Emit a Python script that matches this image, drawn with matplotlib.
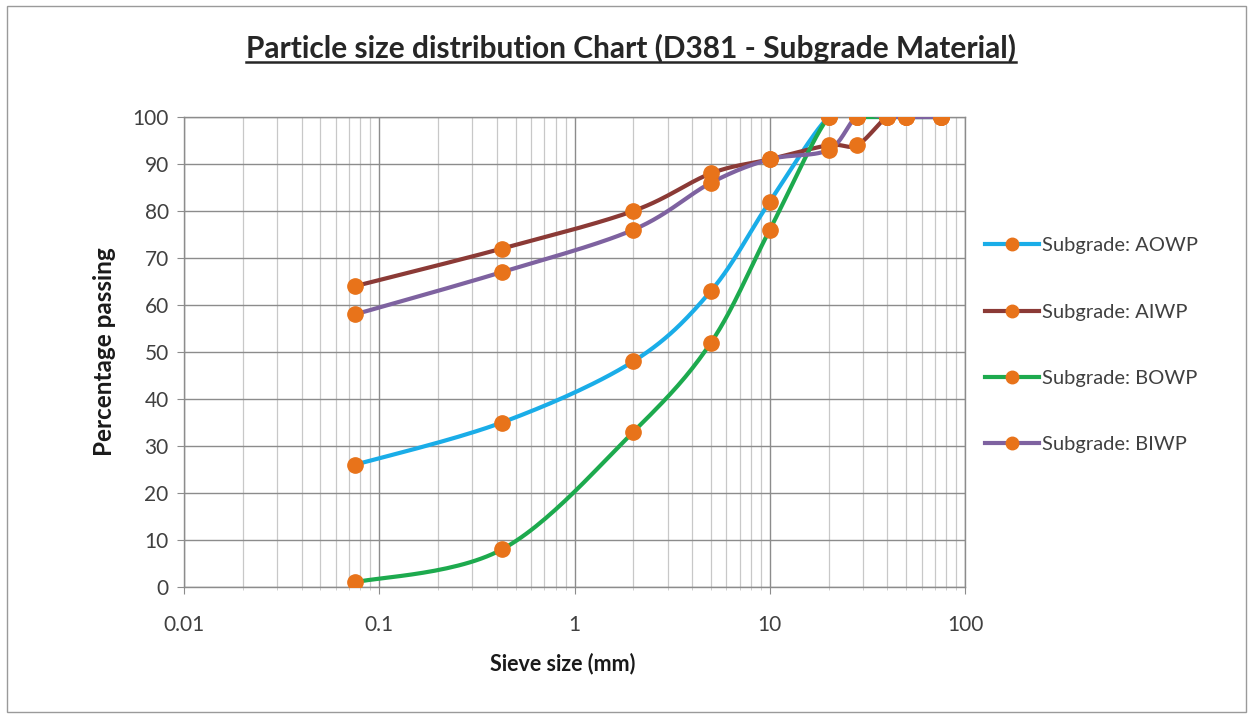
import numpy as np
import matplotlib
matplotlib.use("Agg")
import matplotlib.pyplot as plt
from matplotlib.ticker import LogLocator, FixedLocator, NullFormatter, FuncFormatter
from matplotlib.lines import Line2D
from matplotlib.patches import Rectangle

plt.rcParams['font.family'] = ['Lato', 'DejaVu Sans']

# ---------------- data ----------------
sieve_mm = [0.075, 0.425, 2, 5, 10, 20, 28, 40, 50, 75]
series_names = ["Subgrade: AOWP", "Subgrade: AIWP", "Subgrade: BOWP", "Subgrade: BIWP"]
aowp = [26, 35, 48, 63, 82, 100, 100, 100, 100, 100]
aiwp = [64, 72, 80, 88, 91, 94, 94, 100, 100, 100]
bowp = [1, 8, 33, 52, 76, 100, 100, 100, 100, 100]
biwp = [58, 67, 76, 86, 91, 93, 100, 100, 100, 100]
series_values = [aowp, aiwp, bowp, biwp]
line_colors = ["#1AADE8", "#8B3A36", "#1DAA4E", "#7E62A0"]
marker_color = "#E8731A"

x_ticks = [0.01, 0.1, 1, 10, 100]
x_tick_labels = ["0.01", "0.1", "1", "10", "100"]
y_ticks = list(range(0, 101, 10))

title = "Particle size distribution Chart (D381 - Subgrade Material)"
xlabel = "Sieve size (mm)"
ylabel = "Percentage passing"

# ---------------- figure ----------------
W, H = 1253, 716
fig = plt.figure(figsize=(W / 100, H / 100), dpi=100)
fig.patch.set_facecolor("white")
fig.add_artist(Rectangle((7 / W, 4 / H), (W - 14) / W, (H - 10) / H,
                         transform=fig.transFigure, fill=False,
                         edgecolor="#9A9A9A", linewidth=1.0))

ax_l, ax_r, ax_t, ax_b = 184, 965, 117, 587
ax = fig.add_axes([ax_l / W, 1 - ax_b / H, (ax_r - ax_l) / W, (ax_b - ax_t) / H])
ax.set_xscale("log")
ax.set_xlim(0.01, 100)
ax.set_ylim(0, 100)

ax.xaxis.set_major_locator(FixedLocator(x_ticks))
ax.xaxis.set_major_formatter(FuncFormatter(lambda v, p: x_tick_labels[x_ticks.index(v)] if v in x_ticks else ""))
ax.xaxis.set_minor_locator(LogLocator(base=10, subs=np.arange(2, 10)))
ax.xaxis.set_minor_formatter(NullFormatter())
ax.set_yticks(y_ticks)

ax.grid(True, which="major", axis="both", color="#8C8C8C", linewidth=1.0)
ax.grid(True, which="minor", axis="x", color="#C8C8C8", linewidth=0.9)
ax.set_axisbelow(True)
for s in ax.spines.values():
    s.set_color("#8C8C8C")
    s.set_linewidth(1.0)
ax.tick_params(axis="both", which="major", direction="out", length=5, color="#8C8C8C",
               labelsize=15, labelcolor="#404040", pad=6)
ax.tick_params(axis="x", which="major", pad=15)
ax.tick_params(axis="x", which="minor", direction="inout", length=5, color="#C8C8C8")

ax.set_xlabel(xlabel, fontsize=15.5, fontweight="bold", labelpad=13, color="#1A1A1A")
ax.xaxis.label.set_x((563 - ax_l) / (ax_r - ax_l))
ax.set_ylabel(ylabel, fontsize=17.5, fontweight="bold", labelpad=12, color="#1A1A1A")

# smoothing in display space (Catmull-Rom), like Excel smoothed lines
ax_w_px = ax_r - ax_l
ax_h_px = ax_b - ax_t


def smooth(xs, ys, n=30):
    u = (np.log10(np.asarray(xs, float)) + 2) / 4 * ax_w_px
    v = np.asarray(ys, float) / 100 * ax_h_px
    P = np.column_stack([u, v])
    P = np.vstack([P[0], P, P[-1]])
    out = []
    for i in range(1, len(P) - 2):
        p0, p1, p2, p3 = P[i - 1], P[i], P[i + 1], P[i + 2]
        t = np.linspace(0, 1, n)[:, None]
        seg = 0.5 * ((2 * p1) + (-p0 + p2) * t + (2 * p0 - 5 * p1 + 4 * p2 - p3) * t ** 2
                     + (-p0 + 3 * p1 - 3 * p2 + p3) * t ** 3)
        out.append(seg if i == 1 else seg[1:])
    out = np.vstack(out)
    xs_out = 10 ** (out[:, 0] / ax_w_px * 4 - 2)
    ys_out = out[:, 1] / ax_h_px * 100
    return xs_out, ys_out


handles = []
for name, vals, col in zip(series_names, series_values, line_colors):
    sx, sy = smooth(sieve_mm, vals)
    ax.plot(sx, sy, color=col, linewidth=3.0, solid_capstyle="round", zorder=3)
    ax.plot(sieve_mm, vals, linestyle="none", marker="o", markersize=11,
            markerfacecolor=marker_color, markeredgecolor=marker_color, zorder=4)
    handles.append(Line2D([0], [0], color=col, linewidth=3.0, marker="o", markersize=9,
                          markerfacecolor=marker_color, markeredgecolor=marker_color))

leg = fig.legend(handles, series_names, loc="upper left",
                 bbox_to_anchor=(977 / W, 1 - 229 / H), frameon=False,
                 fontsize=14.5, handlelength=2.7, handletextpad=0.15,
                 labelspacing=2.45, borderaxespad=0)
for t in leg.get_texts():
    t.set_color("#404040")

# title with underline
ttl = fig.text(631 / W, 1 - 48 / H, title, ha="center", va="center",
               fontsize=21.5, fontweight="bold", color="#262626")
fig.canvas.draw()
bb = ttl.get_window_extent(renderer=fig.canvas.get_renderer())
y_ul = (bb.y0 + 1) / H
fig.add_artist(Line2D([bb.x0 / W, bb.x1 / W], [y_ul, y_ul], transform=fig.transFigure,
                      color="#262626", linewidth=1.8))

fig.savefig("out.png", dpi=100, facecolor="white")
